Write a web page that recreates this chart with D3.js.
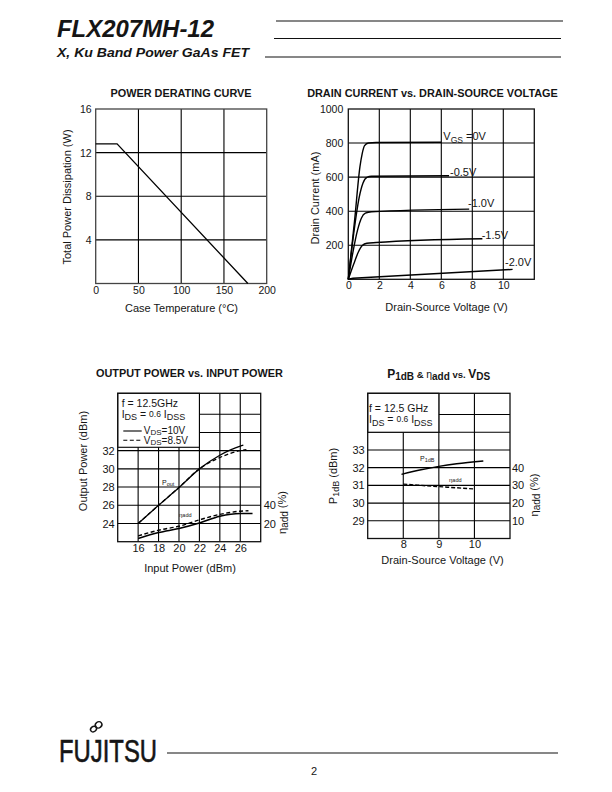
<!DOCTYPE html>
<html><head><meta charset="utf-8">
<script src="https://cdn.jsdelivr.net/npm/d3@7"></script>
<style>
body{margin:0;background:#fff}
svg{display:block}
text{font-family:"Liberation Sans",Arial,Helvetica,sans-serif;fill:#151515}
</style>
</head><body>
<svg id="c" width="612" height="792"></svg>
<script>
// ---------------- DATA ----------------
// Power derating curve
const derTemp  = [0, 25, 178];
const derPower = [12.8, 12.8, 0];
const derXTicks = [0, 50, 100, 150, 200];
const derYTicks = [4, 8, 12, 16];

// Drain current vs drain-source voltage (one curve per VGS)
const ivLabels = ["0V", "-0.5V", "-1.0V", "-1.5V", "-2.0V"];
const ivV0  = [0, 0.4, 0.75, 0.9, 1.05, 1.3, 1.8, 6.0];
const ivI0  = [0, 340, 660, 740, 785, 800, 803, 805];
const ivV05 = [0, 0.35, 0.7, 0.95, 1.2, 1.5, 6.5];
const ivI05 = [0, 270, 480, 565, 598, 605, 608];
const ivV10 = [0, 0.3, 0.6, 0.85, 1.1, 1.5, 7.8];
const ivI10 = [0, 160, 290, 360, 388, 397, 412];
const ivV15 = [0, 0.35, 0.65, 0.9, 1.2, 1.8, 8.65];
const ivI15 = [0, 90, 160, 198, 212, 216, 238];
const ivV20 = [0, 0.3, 10.6];
const ivI20 = [0, 6, 58];
const ivXTicks = [0, 2, 4, 6, 8, 10];
const ivYTicks = [200, 400, 600, 800, 1000];

// Output power vs input power
const pinA   = [16, 18, 20, 22, 24, 26, 26.3];
const pout10 = [24, 26, 27.95, 30, 31.5, 32.5, 32.6];
const pinB   = [16, 18, 20, 22, 23, 24, 26, 26.6];
const pout85 = [24, 26, 27.95, 30, 30.7, 31.25, 32.0, 32.1];
const effPinA = [16, 18, 20, 22, 24, 26, 27.2];
const eff10   = [3.5, 10, 14.5, 20.5, 28, 31, 31];
const effPinB = [16, 18, 20, 22, 24, 26, 26.8];
const eff85   = [6.4, 12.6, 17, 24, 30, 33.5, 34];
const opXTicks = [16, 18, 20, 22, 24, 26];
const opYTicks = [24, 26, 28, 30, 32];
const opEffTicks = [20, 40];

// P1dB & eta_add vs VDS
const vdsP  = [7.95, 8.5, 9, 9.5, 10.25];
const p1db  = [31.62, 31.88, 32.07, 32.22, 32.38];
const vdsE  = [8, 9, 10];
const effV  = [30.7, 29.3, 28];
const pvXTicks = [8, 9, 10];
const pvYTicks = [29, 30, 31, 32, 33];
const pvEffTicks = [10, 20, 30, 40];

// ---------------- HELPERS ----------------
const svg = d3.select("#c");
const zip = (a, b) => a.map((v, i) => [v, b[i]]);

function rich(g, x, y, parts, anchor) {
  const t = g.append("text").attr("x", x).attr("y", y).attr("text-anchor", anchor || "start");
  let cur = 0;
  parts.forEach(p => {
    const [s, size, shift, weight] = p;
    t.append("tspan").attr("dy", (shift || 0) - cur).attr("font-size", size)
      .attr("font-weight", weight || null).text(s);
    cur = shift || 0;
  });
  return t;
}

function grid(g, x, y, xs, ys, x0, x1, y0, y1) {
  g.selectAll(null).data(xs).join("line")
    .attr("x1", d => x(d)).attr("x2", d => x(d))
    .attr("y1", y(y0)).attr("y2", y(y1))
    .attr("stroke", "#000").attr("stroke-width", 1.1);
  g.selectAll(null).data(ys).join("line")
    .attr("x1", x(x0)).attr("x2", x(x1))
    .attr("y1", d => y(d)).attr("y2", d => y(d))
    .attr("stroke", "#000").attr("stroke-width", 1.1);
}

function frame(g, x, y, color) {
  const [a, b] = x.range(), [c, d] = y.range();
  g.append("rect").attr("x", a).attr("y", d).attr("width", b - a).attr("height", c - d)
    .attr("fill", "none").attr("stroke", color || "#222").attr("stroke-width", 1.3);
}

function axisLabels(g, axis, transform, fs) {
  const a = g.append("g").attr("transform", transform).call(axis);
  a.select(".domain").remove();
  a.selectAll("text").attr("font-size", fs || 10.5).attr("fill", "#151515")
    .attr("font-family", '"Liberation Sans",Arial,Helvetica,sans-serif');
  return a;
}

function curve(g, pts, x, y, dash, w, linear) {
  g.append("path").datum(pts)
    .attr("d", d3.line().x(d => x(d[0])).y(d => y(d[1])).curve(linear ? d3.curveLinear : d3.curveMonotoneX))
    .attr("fill", "none").attr("stroke", "#000").attr("stroke-width", w || 1.3)
    .attr("stroke-dasharray", dash || null);
}

// ---------------- HEADER ----------------
svg.append("text").attr("x", 57).attr("y", 37).attr("font-size", 24).attr("font-weight", "bold")
  .attr("font-style", "italic").attr("textLength", 157).attr("lengthAdjust", "spacingAndGlyphs")
  .text("FLX207MH-12");
svg.append("text").attr("x", 57).attr("y", 57).attr("font-size", 13.5).attr("font-weight", "bold")
  .attr("font-style", "italic").attr("textLength", 192).attr("lengthAdjust", "spacingAndGlyphs")
  .text("X, Ku Band Power GaAs FET");
[[276, 563, 21], [274, 561, 38.5], [265, 561, 57]].forEach(l => {
  svg.append("line").attr("x1", l[0]).attr("x2", l[1]).attr("y1", l[2]).attr("y2", l[2])
    .attr("stroke", "#111").attr("stroke-width", 1.1);
});

// ---------------- CHART 1: POWER DERATING ----------------
{
  const g = svg.append("g");
  const x = d3.scaleLinear([0, 200], [95.7, 266.7]);
  const y = d3.scaleLinear([0, 16], [283.5, 109]);
  grid(g, x, y, [50, 100, 150], [4, 8, 12], 0, 200, 0, 16);
  frame(g, x, y, "#444");
  curve(g, zip(derTemp, derPower), x, y, null, 1.3, true);
  axisLabels(g, d3.axisLeft(y).tickValues(derYTicks).tickSize(0).tickPadding(4).tickFormat(d3.format("d")), `translate(${x(0)},0)`);
  axisLabels(g, d3.axisBottom(x).tickValues(derXTicks).tickSize(0).tickPadding(3).tickFormat(d3.format("d")), `translate(0,${y(0)})`);
  g.append("text").attr("x", 181).attr("y", 97).attr("text-anchor", "middle")
    .attr("font-size", 10.9).attr("font-weight", "bold").text("POWER DERATING CURVE");
  g.append("text").attr("x", 181.5).attr("y", 312).attr("text-anchor", "middle")
    .attr("font-size", 11).text("Case Temperature (°C)");
  g.append("text").attr("transform", "translate(66.7,197) rotate(-90)").attr("dy", "0.35em")
    .attr("text-anchor", "middle").attr("font-size", 11).text("Total Power Dissipation (W)");
}

// ---------------- CHART 2: IV CURVES ----------------
{
  const g = svg.append("g");
  const x = d3.scaleLinear([0, 12], [348.3, 534.3]);
  const y = d3.scaleLinear([0, 1000], [279.3, 109]);
  grid(g, x, y, [2, 4, 6, 8, 10], [200, 400, 600, 800], 0, 12, 0, 1000);
  frame(g, x, y, "#111");
  [[ivV0, ivI0], [ivV05, ivI05], [ivV10, ivI10], [ivV15, ivI15]].forEach(c => {
    curve(g, zip(c[0], c[1]), x, y, null, 1.4);
  });
  curve(g, zip(ivV20, ivI20), x, y, null, 1.4, true);
  axisLabels(g, d3.axisLeft(y).tickValues(ivYTicks).tickSize(0).tickPadding(5).tickFormat(d3.format("d")), `translate(${x(0)},0)`);
  axisLabels(g, d3.axisBottom(x).tickValues(ivXTicks).tickSize(0).tickPadding(2).tickFormat(d3.format("d")), `translate(0,${y(0)})`);
  // curve labels
  rich(g, 443.3, 140, [["V", 11, 0], ["GS", 8.5, 2.5], [" =" + ivLabels[0], 11, 0]]);
  const lp = [[450, 175.5], [468, 206.8], [481.7, 238.8], [505, 265.5]];
  lp.forEach((p, i) => g.append("text").attr("x", p[0]).attr("y", p[1]).attr("font-size", 11).text(ivLabels[i + 1]));
  g.append("text").attr("x", 432.5).attr("y", 97).attr("text-anchor", "middle")
    .attr("font-size", 10.9).attr("font-weight", "bold").text("DRAIN CURRENT vs. DRAIN-SOURCE VOLTAGE");
  g.append("text").attr("x", 446.5).attr("y", 310.5).attr("text-anchor", "middle")
    .attr("font-size", 11).text("Drain-Source Voltage (V)");
  g.append("text").attr("transform", "translate(315,198) rotate(-90)").attr("dy", "0.35em")
    .attr("text-anchor", "middle").attr("font-size", 11).text("Drain Current (mA)");
}

// ---------------- CHART 3: OUTPUT POWER vs INPUT POWER ----------------
{
  const g = svg.append("g");
  const x = d3.scaleLinear([14, 28], [117.7, 260.7]);
  const y = d3.scaleLinear([22, 38.3], [541.7, 393.3]);
  const yE = d3.scaleLinear([0, 20], [y(22), y(24)]); // 20% <-> 24 dBm, 40% <-> 26 dBm
  grid(g, x, y, opXTicks, [24, 26, 28, 30, 32, 34, 36], 14, 28, 22, 38.3);
  // legend box
  g.append("rect").attr("x", x(14)).attr("y", y(38.3)).attr("width", x(22) - x(14))
    .attr("height", y(32.37) - y(38.3)).attr("fill", "#fff").attr("stroke", "#000").attr("stroke-width", 1.1);
  frame(g, x, y, "#111");
  curve(g, zip(pinA, pout10), x, y, null, 1.3);
  curve(g, zip(pinB, pout85), x, y, "4,2.5", 1.3);
  curve(g, zip(effPinA, eff10), x, yE, null, 1.6);
  curve(g, zip(effPinB, eff85), x, yE, "4,2.5", 1.4);
  axisLabels(g, d3.axisLeft(y).tickValues(opYTicks).tickSize(0).tickPadding(3).tickFormat(d3.format("d")), `translate(${x(14)},0)`, 11);
  axisLabels(g, d3.axisRight(yE).tickValues(opEffTicks).tickSize(0).tickPadding(3).tickFormat(d3.format("d")), `translate(${x(28)},0)`, 11);
  axisLabels(g, d3.axisBottom(x).tickValues(opXTicks).tickSize(0).tickPadding(3).tickFormat(d3.format("d")), `translate(0,${y(22)})`, 11);
  // legend text
  g.append("text").attr("x", 121.7).attr("y", 407).attr("font-size", 10.5).text("f = 12.5GHz");
  rich(g, 121.7, 417.5, [["I", 10.5, 0], ["DS", 9, 2.5], [" = ", 10.5, 0], ["0.6", 8.5, -1], [" I", 10.5, 0], ["DSS", 9, 2.5]]);
  g.append("line").attr("x1", 123.3).attr("x2", 141.7).attr("y1", 431).attr("y2", 431).attr("stroke", "#000").attr("stroke-width", 1.1);
  g.append("line").attr("x1", 123.3).attr("x2", 141.7).attr("y1", 440.3).attr("y2", 440.3).attr("stroke", "#000").attr("stroke-width", 1.1).attr("stroke-dasharray", "4,2.5");
  rich(g, 143.8, 433.5, [["V", 10, 0], ["DS", 8, 1.5], ["=10V", 10, 0]]);
  rich(g, 143.8, 443.5, [["V", 10, 0], ["DS", 8, 1.5], ["=8.5V", 10, 0]]);
  // inline labels
  rich(g, 162, 484.5, [["P", 7, 0], ["out", 5.5, 1.5]]);
  rich(g, 179, 516.5, [["η", 6, 0], ["add", 5.5, 0]]);
  // titles
  g.append("text").attr("x", 189.5).attr("y", 377).attr("text-anchor", "middle")
    .attr("font-size", 10.9).attr("font-weight", "bold").text("OUTPUT POWER vs. INPUT POWER");
  g.append("text").attr("x", 190).attr("y", 572).attr("text-anchor", "middle")
    .attr("font-size", 11).text("Input Power (dBm)");
  g.append("text").attr("transform", "translate(83.3,461) rotate(-90)").attr("dy", "0.35em")
    .attr("text-anchor", "middle").attr("font-size", 11).text("Output Power (dBm)");
  rich(g, 0, 0, [["η", 11, 0], ["add", 10, 2], [" (%)", 11, 0]], "middle")
    .attr("transform", "translate(286,512.5) rotate(-90)").attr("dy", "0.35em");
}

// ---------------- CHART 4: P1dB & eta vs VDS ----------------
{
  const g = svg.append("g");
  const x = d3.scaleLinear([7, 11], [367.7, 510]);
  const y = d3.scaleLinear([28, 36.2], [538.5, 393.3]);
  const yE = d3.scaleLinear([0, 10], [y(28), y(29)]); // 10% per dB, 40% <-> 32 dBm
  grid(g, x, y, pvXTicks, [29, 30, 31, 32, 33, 34, 35], 7, 11, 28, 36.2);
  g.append("rect").attr("x", x(7)).attr("y", y(36.2)).attr("width", x(9) - x(7))
    .attr("height", y(34) - y(36.2)).attr("fill", "#fff").attr("stroke", "#000").attr("stroke-width", 1.1);
  frame(g, x, y, "#111");
  curve(g, zip(vdsP, p1db), x, y, null, 1.4);
  curve(g, zip(vdsE, effV), x, yE, "4,2", 1.4);
  axisLabels(g, d3.axisLeft(y).tickValues(pvYTicks).tickSize(0).tickPadding(3).tickFormat(d3.format("d")), `translate(${x(7)},0)`, 11);
  axisLabels(g, d3.axisRight(yE).tickValues(pvEffTicks).tickSize(0).tickPadding(2).tickFormat(d3.format("d")), `translate(${x(11)},0)`, 11);
  axisLabels(g, d3.axisBottom(x).tickValues(pvXTicks).tickSize(0).tickPadding(2).tickFormat(d3.format("d")), `translate(0,${y(28)})`, 11);
  g.append("text").attr("x", 369).attr("y", 411.5).attr("font-size", 10.5).text("f = 12.5 GHz");
  rich(g, 369, 423, [["I", 10.5, 0], ["DS", 9, 2.5], [" = ", 10.5, 0], ["0.6", 8.5, -1], [" I", 10.5, 0], ["DSS", 9, 2.5]]);
  rich(g, 420, 460.5, [["P", 7, 0], ["1dB", 5.5, 1.5]]);
  rich(g, 449, 482, [["η", 6, 0], ["add", 5.5, 0]]);
  rich(g, 438.7, 378, [["P", 12, 0, "bold"], ["1dB", 10, 2, "bold"], [" & ", 9.5, 0, "bold"], ["η", 10.5, 0], ["add", 10, 2, "bold"], [" vs. ", 9.5, 0, "bold"], ["V", 12, 0, "bold"], ["DS", 10, 2, "bold"]], "middle");
  g.append("text").attr("x", 442.5).attr("y", 564).attr("text-anchor", "middle")
    .attr("font-size", 11).text("Drain-Source Voltage (V)");
  rich(g, 0, 0, [["P", 11, 0], ["1dB", 9, 2], [" (dBm)", 11, 0]], "middle")
    .attr("transform", "translate(336.7,476) rotate(-90)").attr("dy", "0.35em");
  rich(g, 0, 0, [["η", 11, 0], ["add", 10, 2], [" (%)", 11, 0]], "middle")
    .attr("transform", "translate(538,495) rotate(-90)").attr("dy", "0.35em");
}

// ---------------- FOOTER ----------------
svg.append("text").attr("x", 59).attr("y", 762).attr("font-size", 31)
  .attr("stroke", "#151515").attr("stroke-width", 0.6)
  .attr("textLength", 98).attr("lengthAdjust", "spacingAndGlyphs").text("FUJITSU");
// infinity mark above the "JI"
{
  const inf = svg.append("g").attr("transform", "translate(96,727) rotate(-40)")
    .attr("fill", "none").attr("stroke", "#151515").attr("stroke-width", 1.5);
  inf.append("ellipse").attr("cx", -3.2).attr("cy", 0).attr("rx", 3.2).attr("ry", 2.6);
  inf.append("ellipse").attr("cx", 3.4).attr("cy", 0).attr("rx", 3.4).attr("ry", 3.0);
}
svg.append("line").attr("x1", 167).attr("x2", 558).attr("y1", 753).attr("y2", 753).attr("stroke", "#111").attr("stroke-width", 1.1);
svg.append("text").attr("x", 314).attr("y", 775).attr("text-anchor", "middle").attr("font-size", 11).text("2");
</script>
</body></html>
